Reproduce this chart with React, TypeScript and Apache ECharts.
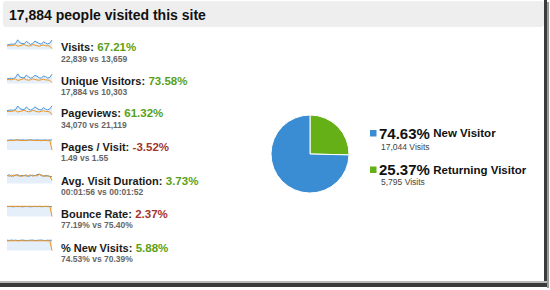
import React, { useEffect, useRef } from "react";
import * as echarts from "echarts";

const FONT = '"Liberation Sans", Arial, Helvetica, sans-serif';

const titleText = "17,884 people visited this site";

const metricLabels = ["Visits", "Unique Visitors", "Pageviews", "Pages / Visit", "Avg. Visit Duration", "Bounce Rate", "% New Visits"];
const metricChanges = ["67.21%", "73.58%", "61.32%", "-3.52%", "3.73%", "2.37%", "5.88%"];
const metricGood = [true, true, true, false, true, false, true];
const metricCurrent = ["22,839", "17,884", "34,070", "1.49", "00:01:56", "77.19%", "74.53%"];
const metricPrevious = ["13,659", "10,303", "21,119", "1.55", "00:01:52", "75.40%", "70.39%"];

const visitsBlue = [40, 45, 50, 48, 55, 88, 62, 55, 52, 74, 60, 46, 55, 76, 65, 55, 48, 70, 60, 50, 58, 86];
const visitsOrange = [32, 36, 34, 38, 42, 30, 34, 40, 46, 36, 32, 34, 44, 40, 33, 30, 36, 42, 34, 34, 30, 8];
const uniqueBlue = [42, 46, 48, 45, 56, 88, 60, 54, 50, 76, 62, 48, 56, 74, 66, 52, 48, 68, 62, 50, 56, 84];
const uniqueOrange = [34, 36, 33, 40, 40, 28, 32, 40, 44, 34, 30, 34, 42, 38, 32, 30, 34, 40, 32, 32, 28, 8];
const pageviewsBlue = [44, 48, 50, 48, 54, 86, 64, 56, 52, 78, 60, 48, 58, 78, 64, 54, 50, 72, 58, 50, 60, 88];
const pageviewsOrange = [36, 38, 36, 42, 44, 32, 36, 42, 48, 38, 34, 36, 46, 42, 34, 32, 38, 44, 36, 36, 32, 6];
const ppvBlue = [88, 90, 92, 90, 91, 93, 90, 92, 91, 90, 92, 93, 91, 90, 92, 91, 90, 91, 92, 90, 91, 92];
const ppvOrange = [84, 86, 88, 86, 90, 92, 86, 88, 86, 85, 88, 90, 86, 87, 88, 86, 85, 86, 87, 85, 86, 0];
const durationBlue = [70, 80, 64, 76, 72, 82, 66, 74, 70, 78, 64, 72, 76, 70, 80, 86, 72, 66, 74, 70, 64, 62];
const durationOrange = [74, 66, 76, 64, 80, 70, 72, 64, 76, 66, 72, 78, 66, 74, 68, 82, 78, 72, 64, 70, 66, 28];
const bounceBlue = [90, 91, 90, 88, 91, 90, 91, 88, 90, 91, 90, 88, 90, 91, 90, 91, 89, 90, 91, 90, 90, 90];
const bounceOrange = [93, 92, 93, 93, 92, 93, 92, 93, 93, 92, 93, 93, 92, 93, 92, 93, 93, 92, 93, 92, 93, 0];
const newBlue = [94, 91, 95, 92, 94, 91, 92, 95, 93, 91, 92, 94, 95, 91, 92, 94, 95, 92, 91, 94, 92, 94];
const newOrange = [88, 89, 88, 88, 89, 88, 88, 89, 88, 88, 89, 88, 88, 88, 89, 88, 88, 89, 88, 88, 88, 0];

const sparkBlue = [visitsBlue, uniqueBlue, pageviewsBlue, ppvBlue, durationBlue, bounceBlue, newBlue];
const sparkOrange = [visitsOrange, uniqueOrange, pageviewsOrange, ppvOrange, durationOrange, bounceOrange, newOrange];

const pieNames = ["Returning Visitor", "New Visitor"];
const piePercents = [25.37, 74.63];
const pieVisits = ["5,795", "17,044"];

const BLUE = "#3a8dd3";
const GREEN = "#64b016";
const LINE_BLUE = "#4b95da";
const LINE_ORANGE = "#f0931f";

const rowTitleY = [46.5, 80.5, 112.5, 147, 180.5, 213.5, 247.5];
const rowSubY = [58.5, 91.5, 124.5, 157.5, 192, 225, 258.5];

export default function App() {
  const ref = useRef<HTMLDivElement>(null);

  useEffect(() => {
    if (!ref.current) return;
    const chart = echarts.init(ref.current, null, { renderer: "svg" });

    const grids: any[] = [];
    const xAxes: any[] = [];
    const yAxes: any[] = [];
    const series: any[] = [];

    metricLabels.forEach((_, i) => {
      grids.push({ left: 7, top: rowTitleY[i] - 8, width: 45, height: 11 });
      xAxes.push({
        type: "category",
        gridIndex: i,
        show: false,
        boundaryGap: false,
        data: sparkBlue[i].map((_, k) => k),
      });
      yAxes.push({ type: "value", gridIndex: i, show: false, min: 0, max: 100 });
      series.push({
        type: "line",
        xAxisIndex: i,
        yAxisIndex: i,
        data: sparkBlue[i],
        symbol: "none",
        silent: true,
        lineStyle: { color: LINE_BLUE, width: 1 },
        areaStyle: { color: "#e4effa", opacity: 1 },
        z: 2,
      });
      series.push({
        type: "line",
        xAxisIndex: i,
        yAxisIndex: i,
        data: sparkOrange[i],
        symbol: "none",
        silent: true,
        lineStyle: { color: LINE_ORANGE, width: 1 },
        z: 3,
      });
    });

    series.push({
      type: "pie",
      center: [310, 154],
      radius: [0, 39],
      startAngle: 90,
      clockwise: true,
      silent: true,
      label: { show: false },
      labelLine: { show: false },
      itemStyle: { borderColor: "#ffffff", borderWidth: 1 },
      data: pieNames.map((n, i) => ({
        name: n,
        value: piePercents[i],
        itemStyle: { color: i === 0 ? GREEN : BLUE },
      })),
    });

    const graphic: any[] = [
      {
        type: "rect",
        shape: { x: 3, y: 1, width: 541, height: 26, r: 3 },
        style: { fill: "#eeeeee" },
        z: 0,
      },
      {
        type: "text",
        style: {
          text: titleText,
          x: 9,
          y: 15,
          verticalAlign: "middle",
          font: `bold 14px ${FONT}`,
          fill: "#111111",
        },
      },
      { type: "rect", shape: { x: 544, y: 0, width: 3, height: 287 }, style: { fill: "#3a3a3a" } },
      { type: "rect", shape: { x: 547, y: 2, width: 2, height: 286 }, style: { fill: "#9a9a9a" } },
      { type: "rect", shape: { x: 0, y: 281, width: 547, height: 2 }, style: { fill: "#b8b8b8" } },
      { type: "rect", shape: { x: 0, y: 283, width: 547, height: 4 }, style: { fill: "#3a3a3a" } },
    ];

    metricLabels.forEach((lab, i) => {
      graphic.push({
        type: "text",
        style: {
          text: `{l|${lab}:} {p|${metricChanges[i]}}`,
          x: 61,
          y: rowTitleY[i],
          verticalAlign: "middle",
          rich: {
            l: { font: `bold 11px ${FONT}`, fill: "#1a1a1a", lineHeight: 12 },
            p: { font: `bold 11.5px ${FONT}`, fill: metricGood[i] ? "#5a9f17" : "#a3352b", lineHeight: 12 },
          },
        },
      });
      graphic.push({
        type: "text",
        style: {
          text: `${metricCurrent[i]} vs ${metricPrevious[i]}`,
          x: 61,
          y: rowSubY[i],
          verticalAlign: "middle",
          font: `bold 8.5px ${FONT}`,
          fill: "#666666",
        },
      });
    });

    const legendOrder = [1, 0];
    const legendY = [133, 169.5];
    const legendSubY = [146.5, 181.5];
    legendOrder.forEach((idx, j) => {
      graphic.push({
        type: "rect",
        shape: { x: 370, y: legendY[j] - 3, width: 6.5, height: 6.5 },
        style: { fill: idx === 0 ? GREEN : BLUE },
      });
      graphic.push({
        type: "text",
        style: {
          text: `{a|${piePercents[idx].toFixed(2)}%} {b|${pieNames[idx]}}`,
          x: 379,
          y: legendY[j],
          verticalAlign: "middle",
          rich: {
            a: { font: `bold 15px ${FONT}`, fill: "#111111", lineHeight: 14 },
            b: { font: `bold 11.5px ${FONT}`, fill: "#111111", lineHeight: 14 },
          },
        },
      });
      graphic.push({
        type: "text",
        style: {
          text: `${pieVisits[idx]} Visits`,
          x: 381,
          y: legendSubY[j],
          verticalAlign: "middle",
          font: `8.5px ${FONT}`,
          fill: "#444444",
          lineHeight: 9,
        },
      });
    });

    chart.setOption({
      animation: false,
      backgroundColor: "#ffffff",
      grid: grids,
      xAxis: xAxes,
      yAxis: yAxes,
      series,
      graphic,
    });

    return () => chart.dispose();
  }, []);

  return (
    <div
      ref={ref}
      style={{ position: "absolute", left: 0, top: 0, width: 550, height: 290 }}
    />
  );
}
